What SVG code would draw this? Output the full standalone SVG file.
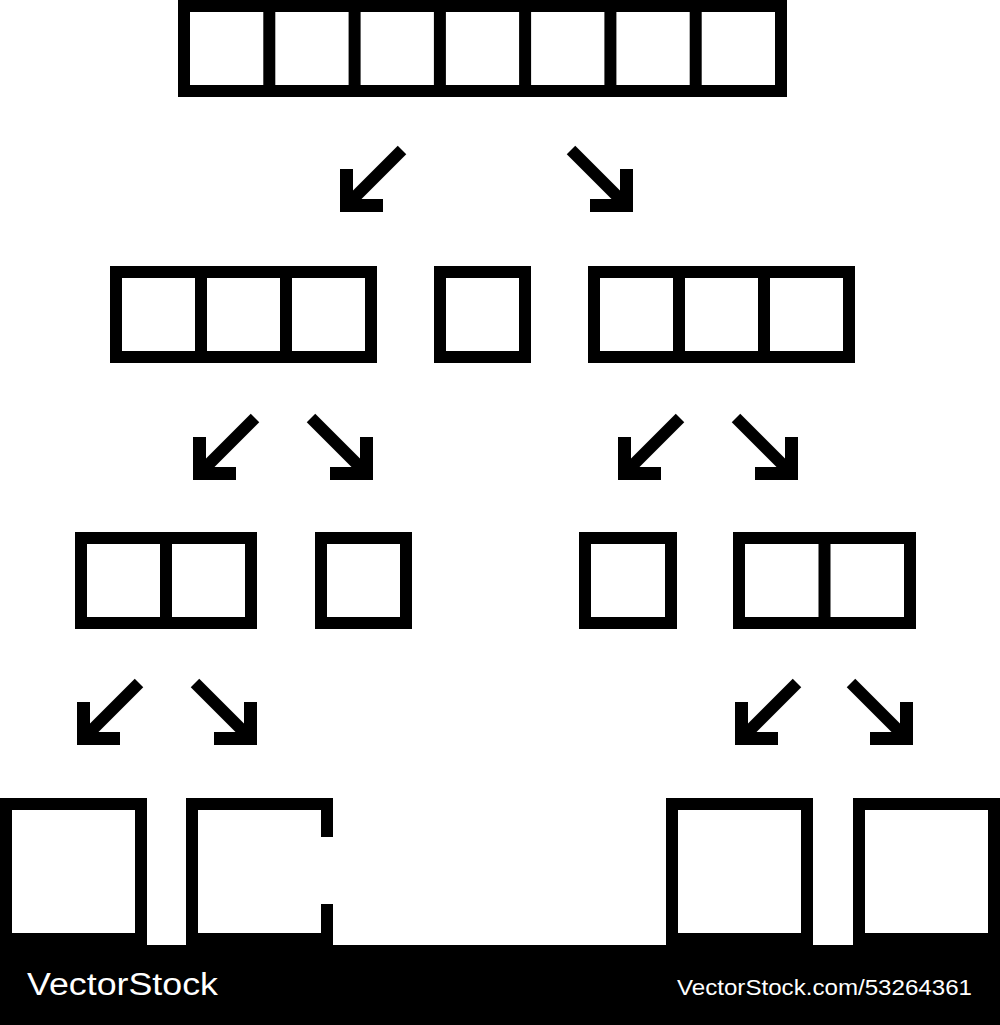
<svg xmlns="http://www.w3.org/2000/svg" xmlns:xlink="http://www.w3.org/1999/xlink" width="1000" height="1025" viewBox="0 0 1000 1025">
  <style>
    .box { fill: #ffffff; stroke: #000000; stroke-width: 12; stroke-linejoin: miter; }
    .div { stroke: #000000; stroke-width: 12; fill: none; }
    .shaft { stroke: #000000; stroke-width: 12; fill: none; stroke-linecap: butt; }
    .head { stroke: #000000; stroke-width: 13; fill: none; stroke-linejoin: miter; stroke-linecap: butt; }
    .wm { fill: #ffffff; font-family: "Liberation Sans", Arial, sans-serif; }
  </style>
  <defs>
    <g id="dl">
      <path class="shaft" d="M8,-8 L62,-62"/>
      <path class="head" d="M6.5,-43 V-6.5 H43"/>
    </g>
    <g id="dr">
      <use xlink:href="#dl" href="#dl" transform="scale(-1,1)"/>
    </g>
  </defs>
  <rect x="0" y="0" width="1000" height="1025" fill="#ffffff"/>

  <!-- Row 1: 7 cells -->
  <g id="row1-array">
    <rect class="box" x="184" y="6" width="597" height="85"/>
    <path class="div" d="M269.3,6 V91 M354.6,6 V91 M439.9,6 V91 M525.1,6 V91 M610.4,6 V91 M695.7,6 V91"/>
  </g>

  <!-- Row 2 -->
  <g id="row2-left">
    <rect class="box" x="116" y="272" width="255" height="85"/>
    <path class="div" d="M201,272 V357 M286,272 V357"/>
  </g>
  <g id="row2-pivot">
    <rect class="box" x="440" y="272" width="85" height="85"/>
  </g>
  <g id="row2-right">
    <rect class="box" x="594" y="272" width="255" height="85"/>
    <path class="div" d="M679,272 V357 M764,272 V357"/>
  </g>

  <!-- Row 3 -->
  <g id="row3-left-pair">
    <rect class="box" x="81" y="538" width="170" height="85"/>
    <path class="div" d="M166,538 V623"/>
  </g>
  <g id="row3-left-single">
    <rect class="box" x="321" y="538" width="85" height="85"/>
  </g>
  <g id="row3-right-single">
    <rect class="box" x="585" y="538" width="86" height="85"/>
  </g>
  <g id="row3-right-pair">
    <rect class="box" x="739" y="538" width="171" height="85"/>
    <path class="div" d="M824.5,538 V623"/>
  </g>

  <!-- Row 4 -->
  <g id="row4-a">
    <rect class="box" x="6" y="804" width="135" height="135"/>
  </g>
  <g id="row4-b">
    <path class="box" style="fill:#ffffff" d="M327,837 V804 H192 V939 H327 V904"/>
  </g>
  <g id="row4-c">
    <rect class="box" x="672" y="804" width="135" height="135"/>
  </g>
  <g id="row4-d">
    <rect class="box" x="859" y="804" width="135" height="135"/>
  </g>

  <!-- Connectors -->
  <g id="connectors">
    <use xlink:href="#dl" href="#dl" transform="translate(340,212)"/>
    <use xlink:href="#dr" href="#dr" transform="translate(633,212)"/>
    <use xlink:href="#dl" href="#dl" transform="translate(193,480)"/>
    <use xlink:href="#dr" href="#dr" transform="translate(373,480)"/>
    <use xlink:href="#dl" href="#dl" transform="translate(618,480)"/>
    <use xlink:href="#dr" href="#dr" transform="translate(798,480)"/>
    <use xlink:href="#dl" href="#dl" transform="translate(77,745)"/>
    <use xlink:href="#dr" href="#dr" transform="translate(257,745)"/>
    <use xlink:href="#dl" href="#dl" transform="translate(735,745)"/>
    <use xlink:href="#dr" href="#dr" transform="translate(913,745)"/>
  </g>

  <!-- Watermark band -->
  <g id="watermark">
    <rect x="0" y="945" width="1000" height="80" fill="#000000"/>
    <text class="wm" x="27" y="995" font-size="31" textLength="191" lengthAdjust="spacingAndGlyphs">VectorStock</text>
    <text class="wm" x="677" y="995" font-size="22" textLength="295" lengthAdjust="spacingAndGlyphs">VectorStock.com/53264361</text>
  </g>
</svg>
